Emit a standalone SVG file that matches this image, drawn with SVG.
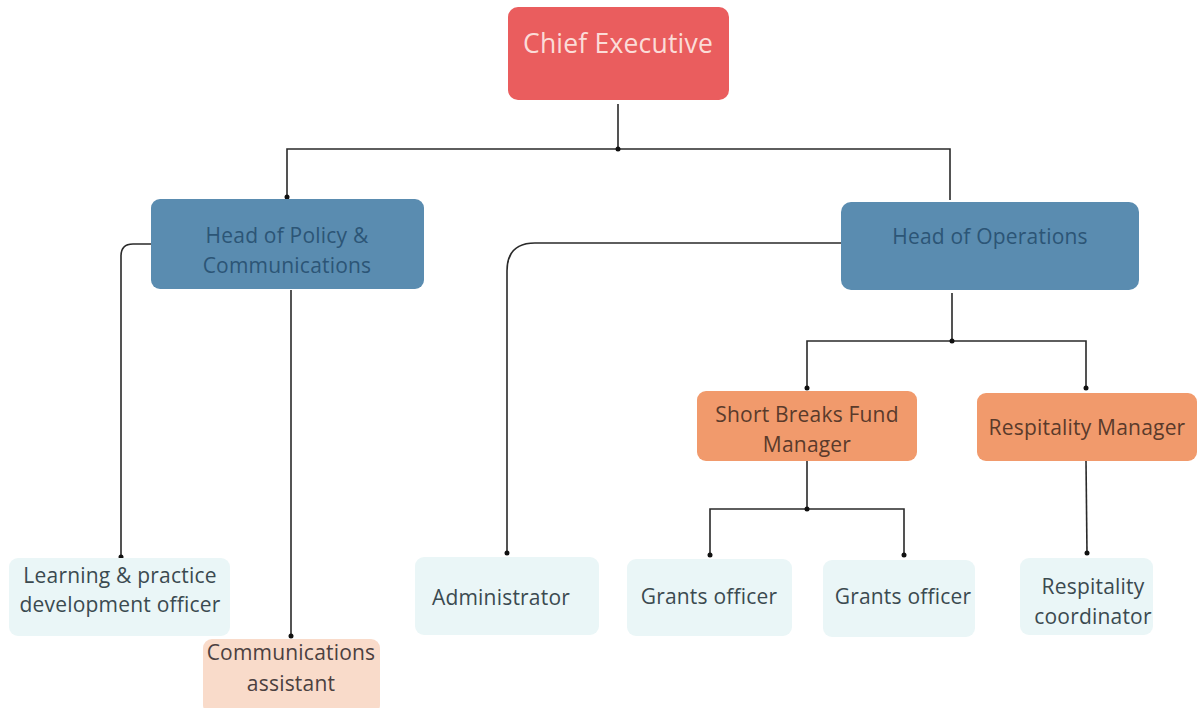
<svg xmlns="http://www.w3.org/2000/svg" width="1199" height="708" viewBox="0 0 1199 708">
<style>
text{font-family:"Open Sans",Lato,"Liberation Sans",sans-serif;font-size:21px;text-anchor:middle;letter-spacing:0.2px}
.ce{fill:#ea5d5e}
.ce-t{fill:#fbdcd8;font-size:26.5px}
.hd{fill:#5a8cb0}
.hd-t{fill:#2c5576}
.mg{fill:#f19a6c}
.mg-t{fill:#5a3a2b}
.lf{fill:#eaf6f7}
.lf-t{fill:#3b4a50}
.pc{fill:#f9dbca}
.pc-t{fill:#4b4040}
.ln{fill:none;stroke:#2a2a2a;stroke-width:1.6}
.dot{fill:#111}
</style>
<rect width="1199" height="708" fill="#ffffff"/>
<g id="connectors">
<path class="ln" d="M618 104V149M287 198V149H950V200"/>
<circle class="dot" cx="618" cy="149" r="2.5"/><circle class="dot" cx="287" cy="197" r="2.5"/>
<path class="ln" d="M151 244H133Q121 244 121 256V557"/>
<circle class="dot" cx="121" cy="557" r="2.5"/>
<path class="ln" d="M291 290V636"/>
<circle class="dot" cx="291" cy="636" r="2.5"/>
<path class="ln" d="M841 243H535Q507 243 507 271V553"/>
<circle class="dot" cx="507" cy="553" r="2.5"/>
<path class="ln" d="M952 293V341M807 388V341H1086V388"/>
<circle class="dot" cx="952" cy="341" r="2.5"/><circle class="dot" cx="807" cy="388" r="2.5"/><circle class="dot" cx="1086" cy="388" r="2.5"/>
<path class="ln" d="M807 461V509M710 555V509H904V555"/>
<circle class="dot" cx="807" cy="509" r="2.5"/><circle class="dot" cx="710" cy="555" r="2.5"/><circle class="dot" cx="904" cy="555" r="2.5"/>
<path class="ln" d="M1086 461L1087 553"/>
<circle class="dot" cx="1087" cy="553" r="2.5"/>
</g>
<g id="chief-executive"><rect class="ce" x="508" y="7" width="221" height="93" rx="10"/><text class="ce-t" x="618" y="53">Chief Executive</text></g>
<g id="head-policy"><rect class="hd" x="151" y="199" width="273" height="90" rx="9"/><text class="hd-t" x="287" y="243">Head of Policy &amp;</text><text class="hd-t" x="287" y="273">Communications</text></g>
<g id="head-operations"><rect class="hd" x="841" y="202" width="298" height="88" rx="10"/><text class="hd-t" x="990" y="244">Head of Operations</text></g>
<g id="short-breaks"><rect class="mg" x="697" y="391" width="220" height="70" rx="9"/><text class="mg-t" x="807" y="422">Short Breaks Fund</text><text class="mg-t" x="807" y="452">Manager</text></g>
<g id="respitality-manager"><rect class="mg" x="977" y="393" width="220" height="68" rx="9"/><text class="mg-t" x="1087" y="435">Respitality Manager</text></g>
<g id="learning"><rect class="lf" x="9" y="558" width="221" height="78" rx="9"/><text class="lf-t" x="120" y="583">Learning &amp; practice</text><text class="lf-t" x="120" y="612">development officer</text></g>
<g id="comms-assistant"><rect class="pc" x="203" y="639" width="177" height="75" rx="9"/><text class="pc-t" x="291" y="660">Communications</text><text class="pc-t" x="291" y="691">assistant</text></g>
<g id="administrator"><rect class="lf" x="415" y="557" width="184" height="78" rx="9"/><text class="lf-t" x="501" y="605">Administrator</text></g>
<g id="grants-1"><rect class="lf" x="627" y="559" width="165" height="77" rx="9"/><text class="lf-t" x="709" y="604">Grants officer</text></g>
<g id="grants-2"><rect class="lf" x="823" y="560" width="152" height="77" rx="9"/><text class="lf-t" x="903" y="604">Grants officer</text></g>
<g id="respitality-coordinator"><rect class="lf" x="1020" y="558" width="133" height="77" rx="9"/><text class="lf-t" x="1093" y="594">Respitality</text><text class="lf-t" x="1093" y="624">coordinator</text></g>
</svg>
